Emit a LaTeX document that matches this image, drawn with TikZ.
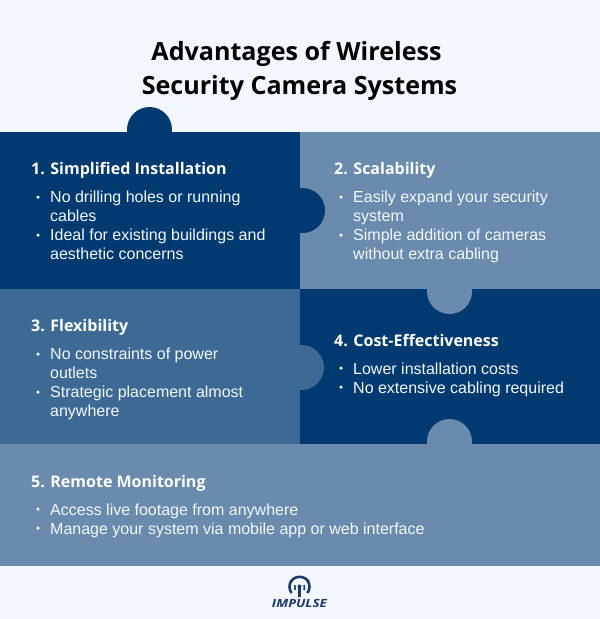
\documentclass[tikz,border=0pt]{standalone}
\usepackage{fontspec}
\setmainfont{Liberation Sans}
\newfontfamily\titlefont{Open Sans}
\definecolor{bgc}{HTML}{F3F8FE}
\definecolor{darkc}{HTML}{003A70}
\definecolor{midc}{HTML}{3D6A94}
\definecolor{lightc}{HTML}{6A8BAD}
\definecolor{bulc}{HTML}{F3F8FE}
\definecolor{logoc}{HTML}{1B3A6B}
\tikzset{
 x=1pt,y=-1pt,
 titletext/.style={font=\titlefont\bfseries\fontsize{25.1}{34}\selectfont,text=black,align=center,inner sep=0},
 headtext/.style={font=\titlefont\bfseries\fontsize{16}{20}\selectfont,text=white,anchor=base west,inner sep=0},
 bodytext/.style={font=\fontsize{16}{19}\selectfont,text=bulc,anchor=base west,inner sep=0,align=left},
 bul/.style={circle,fill=bulc,inner sep=0,minimum size=3.5pt},
}
\begin{document}
\begin{tikzpicture}
\useasboundingbox (0,0) rectangle (600,619);
\fill[bgc] (0,0) rectangle (600,619);
% panels
\fill[darkc] (0,132) rectangle (300,289);
\fill[lightc] (300,132) rectangle (600,289);
\fill[midc] (0,289) rectangle (300,444);
\fill[darkc] (300,289) rectangle (600,444);
\fill[lightc] (0,444) rectangle (600,566);
% tabs
\fill[darkc] (149.5,129.5) circle[radius=22.5];
\fill[darkc] (302.5,210.5) circle[radius=22.5];
\fill[lightc] (449.5,291.5) circle[radius=22.5];
\fill[midc] (301.5,367.5) circle[radius=22.5];
\fill[lightc] (449.5,441.5) circle[radius=22.5];
% title
\node[titletext] (title) at (299.5,70.5) {Advantages of Wireless\kern6pt\\Security Camera Systems};
% panel 1
\node[headtext] (h1) at (31,174) {1. Simplified Installation};
\node[bul] (b11) at (38,197) {};
\node[bodytext] (t11) at (50,202) {No drilling holes or running};
\node[bodytext] (t11b) at (50,221) {cables};
\node[bul] (b12) at (38,235) {};
\node[bodytext] (t12) at (50,240) {Ideal for existing buildings and};
\node[bodytext] (t12b) at (50,259) {aesthetic concerns};
% panel 2
\node[headtext] (h2) at (334,174) {2. Scalability};
\node[bul] (b21) at (341,197) {};
\node[bodytext] (t21) at (353,202) {Easily expand your security};
\node[bodytext] (t21b) at (353,221) {system};
\node[bul] (b22) at (341,235) {};
\node[bodytext] (t22) at (353,240) {Simple addition of cameras};
\node[bodytext] (t22b) at (353,259) {without extra cabling};
% panel 3
\node[headtext] (h3) at (31,331) {3. Flexibility};
\node[bul] (b31) at (38,354) {};
\node[bodytext] (t31) at (50,359) {No constraints of power};
\node[bodytext] (t31b) at (50,378) {outlets};
\node[bul] (b32) at (38,392) {};
\node[bodytext] (t32) at (50,397) {Strategic placement almost};
\node[bodytext] (t32b) at (50,416) {anywhere};
% panel 4
\node[headtext] (h4) at (334,346) {4. Cost-Effectiveness};
\node[bul] (b41) at (341,368) {};
\node[bodytext] (t41) at (353,374) {Lower installation costs};
\node[bul] (b42) at (341,387) {};
\node[bodytext] (t42) at (353,393) {No extensive cabling required};
% panel 5
\node[headtext] (h5) at (31,487) {5. Remote Monitoring};
\node[bul] (b51) at (38,509) {};
\node[bodytext] (t51) at (50,515) {Access live footage from anywhere};
\node[bul] (b52) at (38,528) {};
\node[bodytext] (t52) at (50,534) {Manage your system via mobile app or web interface};
% logo
\begin{scope}[logoc,line width=2.6pt]
\draw (291.5,593) arc[start angle=215,end angle=145,x radius=11,y radius=-11];
\draw (307.5,593) arc[start angle=-35,end angle=35,x radius=11,y radius=-11];
\draw (290.5,582) arc[start angle=150,end angle=30,x radius=10.5,y radius=-10.5];
\draw[line width=1.6pt] (295.2,590) arc[start angle=200,end angle=160,x radius=7,y radius=-7];
\draw[line width=1.6pt] (304,590) arc[start angle=-20,end angle=20,x radius=7,y radius=-7];
\fill (299.5,586.5) circle[radius=2];
\fill (298.3,588) rectangle (300.8,596.5);
\end{scope}
\node[inner sep=0,text=logoc,transform shape,xscale=1.2,font=\titlefont\bfseries\itshape\fontsize{11.3}{12}\selectfont] (logo) at (299.5,603) {IMPULSE};
\end{tikzpicture}
\end{document}
